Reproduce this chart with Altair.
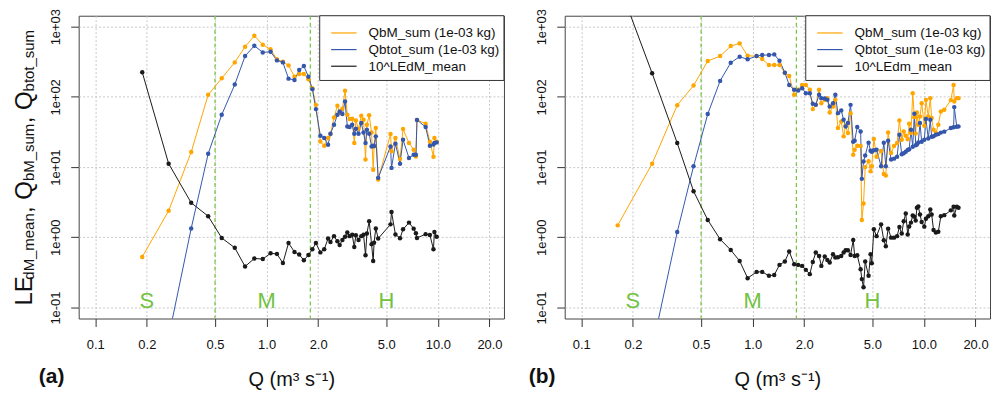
import altair as alt
import pandas as pd

# ---------------- data ----------------
series_a = ["QbM_sum (1e-03 kg)", "Qbtot_sum (1e-03 kg)", "10^LEdM_mean"]
series_b = ["QbM_sum (1e-03 kg)", "Qbtot_sum (1e-03 kg)", "10^LEdm_mean"]

Q_a = [0.188, 0.268, 0.363, 0.456, 0.547, 0.652, 0.749, 0.848, 0.95, 1.055,
       1.149, 1.245, 1.343, 1.455, 1.55, 1.65, 1.754, 1.85, 1.94, 2.06,
       2.17, 2.285, 2.36, 2.475, 2.59, 2.67, 2.77, 2.87, 2.96, 3.05,
       3.16, 3.25, 3.32, 3.44, 3.57, 3.68, 3.78, 3.85, 3.97, 4.10,
       4.19, 4.24, 4.34, 4.48, 5.29, 5.36, 5.65, 6.01, 6.26, 6.78,
       7.22, 7.44, 7.55, 8.48, 8.98, 9.42, 9.54, 9.84]
qbm_a = [0.526, 2.39, 16.4, 107, 184, 310, 517, 741, 552, 476,
         343, 316, 281, 194, 212, 212, 178, 133, 77, 23.2,
         20.2, 26, 29.6, 50.8, 75, 58.7, 67.7, 122, 55.6, 48.5,
         48.8, 22, 46, 35.2, 53.8, 47.2, 12.8, 40, 54.7, 31.2,
         9.2, 19.7, 36, 6.65, 29.6, 16.8, 26, 13, 34.8, 22,
         17.7, 14.2, 47, 41.5, 23, 14, 26, 23]
qbtot_a = [None, 0.038, 1.34, 15.5, 55.6, 150, 381, 535, 430, 440,
           331, 310, 182, 174, 241, 275, 194, 129, 67, 28,
           26, 20.8, 29.9, 40.1, 55.6, 62, 56.9, 85.8, 37.9, 37.2,
           40, 29.9, 35.2, 29.9, 42.4, 31.2, 22, 34, 29.9, 19.7,
           20.2, 20, 27.4, 7.03, 19.7, 9.75, 21.5, 11.2, 24.5, 13.5,
           15, 15, 47, 37.2, 20.2, 21, 22, 22.5]
le_a = [224, 11.2, 3.1, 2.0, 0.98, 0.71, 0.384, 0.50, 0.49, 0.593,
        0.58, 0.43, 0.83, 0.62, 0.57, 0.47, 0.56, 0.676, 0.83, 0.61,
        0.676, 0.96, 0.86, 1.04, 0.88, 0.78, 0.915, 1.02, 1.17, 1.04,
        1.09, 0.73, 1.07, 0.915, 1.04, 1.09, 0.555, 1.13, 1.7, 0.8,
        0.46, 0.84, 1.34, 0.96, 1.53, 2.29, 1.1, 0.97, 1.3, 1.62,
        1.33, 1.14, 0.98, 1.11, 1.08, 0.676, 1.19, 1.02]

Q_b = [0.163, 0.259, 0.363, 0.452, 0.547, 0.646, 0.745, 0.840, 0.935, 1.055,
       1.138, 1.245, 1.337, 1.435, 1.542, 1.635, 1.748, 1.844, 1.945, 2.044,
       2.157, 2.244, 2.337, 2.443, 2.518, 2.636, 2.73, 2.818, 2.946, 3.04,
       3.148, 3.29, 3.397, 3.49, 3.598, 3.73, 3.865, 3.94, 4.08, 4.27,
       4.34, 4.44, 4.54, 4.75, 4.88, 4.96, 5.10, 5.29, 5.62, 5.83,
       5.99, 6.18, 6.43, 6.69, 6.97, 7.19, 7.42, 7.62, 7.83, 8.04,
       8.2, 8.4, 8.6, 8.79, 8.95, 9.1, 9.27, 9.48, 9.7, 10.05,
       10.27, 10.6, 10.89, 11.09, 11.38, 11.74, 12.13, 12.55, 13.14, 14.36,
       14.9, 15.03, 15.55, 15.91]
qbm_b = [1.48, 11.2, 76.2, 145, 324, 381, 529, 578, 385, 381,
         346, 284, 284, 284, 221, 199, 107, 126, 148, 148,
         126, 67, 77, 126, 81.4, 90.7, 96, 59.8, 72.8, 90.7,
         36, 44.6, 27.4, 38.8, 30.5, 58.7, 15, 17.7, 20.2, 20,
         1.76, 3.03, 10, 12.1, 8.7, 10.3, 25.1, 14, 17, 8,
         7.6, 31.2, 15.9, 20, 22, 46.1, 24.5, 32.2, 28, 25,
         41.4, 30.5, 113, 51.5, 30, 59.8, 40, 52.5, 81.4, 38.8,
         90.7, 52.5, 96, 49.9, 34, 30.5, 40, 61.8, 65.4, 90,
         148, 85.8, 96, 96]
qbtot_b = [None, 0.026, 1.19, 10.3, 56.9, 169, 307, 373, 343, 381,
           394, 394, 403, 327, 221, 148, 126, 123, 133, 113,
           113, 80, 77, 107, 96, 95, 90.7, 72.8, 81.4, 107,
           58.7, 64, 47.2, 37.9, 42.4, 77, 23, 23.8, 37.2, 32.2,
           6.8, 12, 14.6, 22.3, 17.1, 16.6, 17.4, 17.7, 10.3, 22.3,
           10.3, 23.8, 12.8, 13.2, 14, 28.9, 15.2, 15.8, 16.5, 17.5,
           18, 34, 19.5, 57.4, 20.5, 21, 22.5, 42.4, 23, 24.5,
           48.3, 25.5, 47.2, 27, 27.5, 28.9, 29.5, 31, 32, 36,
           37, 71.5, 37.5, 38]
le_b = [4500, 217, 22, 4.54, 1.77, 0.94, 0.66, 0.46, 0.262, 0.322,
        0.322, 0.283, 0.29, 0.405, 0.452, 0.627, 0.414, 0.405, 0.392, 0.344,
        0.299, 0.446, 0.607, 0.543, 0.392, 0.532, 0.476, 0.438, 0.574, 0.515,
        0.52, 0.543, 0.607, 0.654, 0.654, 0.561, 0.916, 0.543, 0.555, 0.352,
        0.254, 0.194, 0.452, 0.283, 0.574, 0.428, 1.30, 1.04, 1.53, 0.906,
        0.745, 1.33, 0.99, 0.99, 1.04, 1.40, 1.13, 1.69, 2.19, 1.10,
        1.43, 1.62, 2.05, 1.97, 1.74, 2.64, 2.75, 2.12, 1.65, 1.42,
        1.84, 2.0, 2.49, 2.12, 1.27, 1.17, 1.2, 2.0, 2.07, 2.42,
        2.73, 2.05, 2.73, 2.64]

x_ticks = [0.1, 0.2, 0.5, 1, 2, 5, 10, 20]
y_ticks = [0.1, 1, 10, 100, 1000]
y_tick_labels = ["1e-01", "1e+00", "1e+01", "1e+02", "1e+03"]
zone_bounds = [0.5, 1.8]
zone_labels = ["S", "M", "H"]
zone_label_q = [0.2, 1.0, 5.0]
zone_label_v = [0.123, 0.123, 0.123]
panel_tags = ["(a)", "(b)"]
ytitle_texts = ["LE", "dM_mean", ", Q", "bM_sum", ", Q", "btot_sum"]

# ---------------- style ----------------
FONT = "Liberation Sans"
COLORS = ["#FFA500", "#3457AC", "#1a1a1a"]
GREEN = "#72C23F"
W, H = 427, 304

xscale = alt.Scale(type="log", domain=[0.0800, 24.3], nice=False)
yscale = alt.Scale(type="log", domain=[0.0698, 1432], nice=False)

label_expr = str(y_tick_labels) + "[round(log(datum.value)/LN10) + 1]"

xaxis = alt.Axis(values=x_ticks, format=".1f", title="Q (m³ s⁻¹)", grid=True,
                 tickSize=8, labelPadding=12, titlePadding=18)
yaxis = alt.Axis(values=y_ticks, labelExpr=label_expr, title=None, grid=True,
                 tickSize=8, labelAngle=-90, labelPadding=8)


def long_df(Q, cols, names):
    rows = []
    for name, vals in zip(names, cols):
        for q, v in zip(Q, vals):
            if v is not None:
                rows.append({"Q": q, "V": v, "series": name})
    return pd.DataFrame(rows)


def legend_layers(names):
    out = []
    box = alt.Chart(pd.DataFrame({"k": [0]})).mark_rect(
        fill="white", stroke="#333", strokeWidth=1).encode(
        x=alt.value(242), x2=alt.value(W), y=alt.value(0), y2=alt.value(65))
    out.append(box)
    for i, name in enumerate(names):
        yy = 17.3 + 16.7 * i
        out.append(alt.Chart(pd.DataFrame({"t": [name]})).mark_rule(
            color=COLORS[i], strokeWidth=1.2).encode(
            x=alt.value(253.5), x2=alt.value(279), y=alt.value(yy)))
        out.append(alt.Chart(pd.DataFrame({"t": [name]})).mark_text(
            align="left", baseline="middle", font=FONT, fontSize=13.5,
            color="#111").encode(x=alt.value(291), y=alt.value(yy + 0.5), text="t:N"))
    return out


def panel(Q, qbm, qbtot, le, names, tag, with_ytitle):
    df = long_df(Q, [qbm, qbtot, le], names)
    base = alt.Chart(df)
    x = alt.X("Q:Q", scale=xscale, axis=xaxis)
    y = alt.Y("V:Q", scale=yscale, axis=yaxis)
    cscale = alt.Scale(domain=names, range=COLORS)
    lines = base.mark_line(strokeWidth=1, clip=True).encode(
        x=x, y=y, color=alt.Color("series:N", scale=cscale, legend=None))
    pts = base.mark_point(filled=True, size=20, opacity=1, clip=True).encode(
        x=x, y=y, fill=alt.Fill("series:N", scale=cscale, legend=None))
    rules = alt.Chart(pd.DataFrame({"Q": zone_bounds})).mark_rule(
        color=GREEN, strokeDash=[4, 3], strokeWidth=1.2).encode(
        x=alt.X("Q:Q", scale=xscale, axis=xaxis))
    zdf = pd.DataFrame({"Q": zone_label_q, "V": zone_label_v, "t": zone_labels})
    ztext = alt.Chart(zdf).mark_text(fontSize=22, color=GREEN, font=FONT).encode(
        x=alt.X("Q:Q", scale=xscale, axis=xaxis),
        y=alt.Y("V:Q", scale=yscale, axis=yaxis), text="t:N")
    tagx = -40 if with_ytitle else -36
    tagmark = alt.Chart(pd.DataFrame({"t": [tag]})).mark_text(
        fontSize=21, fontWeight="bold", font=FONT, align="left", baseline="middle",
        color="#111").encode(x=alt.value(tagx), y=alt.value(H + 59), text="t:N")
    layers = [rules, lines, pts, ztext, tagmark] + legend_layers(names)
    if with_ytitle:
        starts = [291, 265, 198, 166, 108, 76]
        for i, t in enumerate(ytitle_texts):
            big = (i % 2 == 0)
            layers.append(
                alt.Chart(pd.DataFrame({"t": [t]})).mark_text(
                    angle=270, align="left", baseline="alphabetic", font=FONT,
                    fontSize=24 if big else 15, color="#111").encode(
                    x=alt.value(-47 if big else -44.5), y=alt.value(starts[i]),
                    text="t:N"))
    return alt.layer(*layers).properties(width=W, height=H)


pa = panel(Q_a, qbm_a, qbtot_a, le_a, series_a, panel_tags[0], True)
pb = panel(Q_b, qbm_b, qbtot_b, le_b, series_b, panel_tags[1], False)

chart = alt.hconcat(pa, pb, spacing=23).resolve_scale(
    color="independent", fill="independent").properties(
    padding={"left": 12, "top": 7, "right": 0, "bottom": 0},
    background="white",
).configure_view(stroke="#444", strokeWidth=1).configure_axis(
    labelFont=FONT, titleFont=FONT, labelFontSize=13, labelColor="#111",
    titleFontSize=20, titleFontWeight="normal", titleColor="#111",
    tickColor="#333", domain=False, gridColor="#c8c8c8", gridDash=[2, 2],
    gridWidth=1,
)

chart.save("out.html", embed_options={"renderer": "svg", "actions": False})
